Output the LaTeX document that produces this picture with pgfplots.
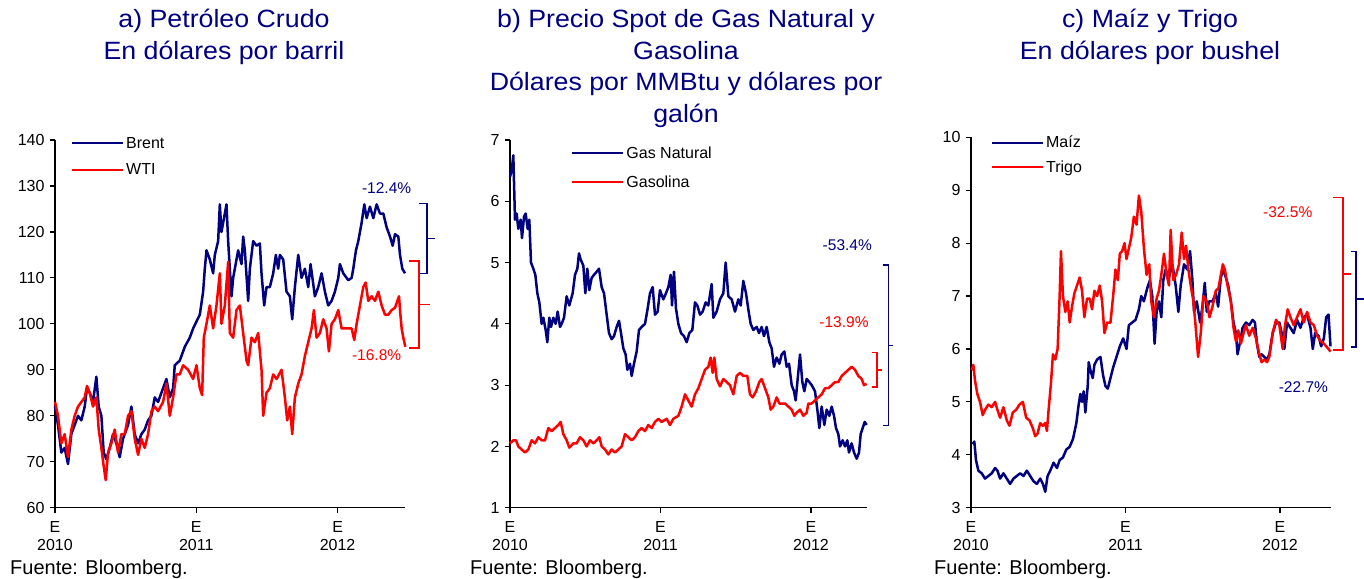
\documentclass[border=0pt]{standalone}
\usepackage{fontspec}
\setmainfont{Liberation Sans}
\newfontfamily\titlefam[FakeStretch=1.07]{Liberation Sans}
\usepackage{pgfplots}
\pgfplotsset{compat=1.18}
\usepackage{pgfplotstable}
\definecolor{navy}{RGB}{0,0,128}
\definecolor{myred}{RGB}{255,0,0}

% x in reference-pixel units (converted to years with x expr)
\pgfplotstableread{
zx v
166 82
175 78
185 72
195 73
205 69.5
215 76
225 78
235 80
245 79
255 82
262 86
270 85
280 83
290 88.5
297 82
305 80
312 72
320 70.5
330 73
340 76
350 74
360 71
370 75
385 78
395 82
405 76
415 74
425 76
435 77
445 79
455 80
465 84
475 83
490 86
500 88
510 84
520 86
525 91
540 92
555 95
570 97
580 99
590 100.5
600 102
610 107
615 112
620 116
630 114
640 111
645 115
655 118
660 126
665 120
675 124
680 126
685 118
690 112
695 106
700 110
705 112
715 116
725 113
730 119
735 116
745 105
750 112
760 118
770 117
780 117.5
785 111
793 104
800 108
810 108
820 111
828 115
835 112
840 115
850 114
860 107
870 106
877 101
885 108
895 115
905 110
915 112
925 108
932 113
945 106
955 108
965 111
975 107
985 104
995 105
1005 107
1015 110
1020 113
1030 111
1045 109.5
1055 110
1060 112
1068 116
1075 118
1085 122
1093 126
1100 123
1110 125.5
1120 123
1130 126
1140 124
1150 124
1160 121
1170 119
1178 117
1185 119.5
1195 119
1200 115
1207 112
1215 111
}\brent
\pgfplotstableread{
zx v
166 83
175 80
185 74
195 76
205 71
215 77
225 80
235 82
245 83
255 84
262 86.5
270 85
280 82
290 84
297 77
305 73
312 69
318 66
325 72
335 74
345 77
355 72
365 76
375 76
385 80
395 81
405 75
415 71.5
425 75
435 73
445 76
455 81
465 82
475 81
490 83
500 87
510 80
520 84
530 89
540 89
550 91
565 90
580 88
590 91
600 86
607 84.5
612 97
620 100
630 104
640 99
650 104
660 111
665 100
675 104
685 113.5
690 98
700 97
710 103
720 104
730 98
740 92
745 91
755 97
765 96
775 98
785 90
790 80
800 85
810 86
820 89
830 88
845 90
855 84
862 79
870 82
877 76
885 84
895 87
905 89
915 93
925 96
935 99
942 103
950 97
960 98
970 101
980 99
987 94
995 100
1005 101
1015 103
1025 99
1040 99
1055 99
1063 96.5
1070 100
1080 104
1090 108
1097 109
1105 105
1115 106
1125 105
1135 107
1145 104
1155 102
1165 102
1175 103
1185 103.5
1197 106
1200 103
1205 99
1210 97
1216 95
}\wti
\pgfplotstableread{
zx v
150 6.4
155 6.5
160 6.75
165 5.7
170 5.8
175 5.55
182 5.7
186 5.4
192 5.75
197 5.8
203 5.55
208 5.7
213 5.0
220 4.9
226 4.8
232 4.5
238 4.35
245 4.0
250 4.1
257 3.9
262 3.7
268 4.1
273 3.95
280 4.1
287 4.0
293 4.2
300 3.95
305 4.0
312 4.1
320 4.45
328 4.3
338 4.5
345 4.8
352 4.9
357 5.15
362 5.05
370 4.95
376 4.5
382 4.9
388 4.55
395 4.75
402 4.8
410 4.85
417 4.9
425 4.6
432 4.5
440 4.15
447 3.85
455 3.75
462 3.8
470 3.95
477 4.05
483 3.85
490 3.6
497 3.5
502 3.25
510 3.35
515 3.15
522 3.35
530 3.55
537 3.9
545 3.95
555 4.0
563 4.25
570 4.5
578 4.6
585 4.15
593 4.2
600 4.55
610 4.4
618 4.5
625 4.6
632 4.8
636 4.3
642 4.85
648 4.25
655 4.0
663 3.85
672 3.8
680 3.7
688 3.85
697 3.9
705 4.35
712 4.3
720 4.15
728 4.2
737 4.35
745 4.3
755 4.65
760 4.1
770 4.2
780 4.4
790 4.5
797 5.0
805 4.45
815 4.4
825 4.2
835 4.4
842 4.3
850 4.7
858 4.5
866 4.2
872 4.0
880 3.9
890 3.95
897 3.85
905 3.95
912 3.8
920 3.95
928 3.7
935 3.6
942 3.3
950 3.45
958 3.35
965 3.5
973 3.55
980 3.3
987 3.35
995 3.0
1002 2.9
1007 2.75
1013 3.1
1020 3.5
1027 3.05
1033 2.9
1040 3.1
1048 3.05
1055 3.0
1065 2.9
1072 2.6
1078 2.3
1085 2.65
1093 2.35
1100 2.6
1108 2.5
1115 2.65
1122 2.5
1128 2.3
1135 2.2
1140 2.0
1148 2.1
1155 2.0
1162 2.1
1167 1.9
1175 2.05
1182 1.9
1190 1.8
1197 1.9
1202 2.2
1208 2.3
1214 2.4
1220 2.35
}\gasnat
\pgfplotstableread{
zx v
150 2.05
160 2.1
168 2.1
175 2.0
185 1.95
195 1.9
205 1.95
215 2.1
225 2.05
235 2.15
245 2.1
255 2.1
265 2.3
275 2.25
285 2.3
295 2.35
302 2.4
310 2.2
320 2.1
328 1.98
340 2.05
350 2.05
360 2.15
370 2.1
380 2.0
390 2.1
400 2.05
410 2.1
418 2.15
425 2.0
435 1.95
445 1.87
455 1.95
465 1.9
475 1.95
485 2.0
495 2.2
505 2.15
515 2.1
525 2.15
535 2.25
545 2.3
555 2.25
565 2.35
575 2.3
585 2.4
595 2.45
605 2.4
620 2.45
630 2.35
640 2.45
655 2.5
665 2.65
675 2.85
685 2.75
695 2.65
705 2.85
715 2.95
725 3.1
735 3.25
745 3.3
752 3.45
758 3.2
763 3.45
770 3.1
780 2.98
790 3.1
800 3.05
810 3.0
820 2.85
830 3.15
840 3.2
850 3.15
862 3.15
870 2.85
878 2.8
888 2.9
898 3.05
905 3.1
915 2.95
925 2.8
932 2.6
940 2.65
950 2.8
958 2.7
965 2.7
975 2.7
985 2.65
995 2.6
1003 2.5
1010 2.55
1020 2.6
1030 2.5
1040 2.55
1045 2.7
1055 2.7
1065 2.75
1075 2.8
1085 2.85
1095 2.95
1105 2.95
1115 3.0
1125 3.05
1135 3.05
1145 3.15
1155 3.2
1165 3.25
1175 3.3
1185 3.25
1195 3.15
1205 3.1
1212 3.0
1220 3.02
}\gasolina
\pgfplotstableread{
zx v
158 4.2
163 4.25
168 3.9
175 3.7
185 3.65
195 3.55
205 3.6
215 3.65
225 3.75
232 3.7
240 3.55
250 3.65
260 3.55
270 3.45
280 3.55
290 3.6
300 3.65
310 3.6
320 3.7
330 3.6
340 3.5
350 3.45
360 3.55
368 3.45
375 3.3
382 3.6
390 3.7
400 3.85
410 3.75
418 3.9
428 3.95
438 4.1
448 4.15
458 4.3
468 4.6
475 4.95
480 5.15
485 5.0
490 5.2
495 4.8
502 5.3
505 5.75
510 5.6
517 5.45
522 5.7
530 5.8
540 5.85
548 5.5
555 5.3
562 5.25
570 5.45
578 5.65
588 5.85
598 6.05
608 6.2
618 6.0
625 6.45
635 6.5
645 6.55
655 6.75
662 7.0
670 6.9
680 7.15
688 7.3
695 7.0
702 6.1
708 6.7
715 6.9
722 6.6
728 7.3
735 7.5
745 7.35
755 7.6
765 7.2
773 6.7
780 7.2
790 7.6
800 7.5
808 7.85
815 7.3
820 6.7
828 6.9
838 6.5
845 6.8
852 7.25
858 6.7
865 6.9
875 6.9
885 7.05
892 6.8
900 7.35
908 7.5
915 7.35
922 7.2
930 6.9
938 6.5
945 6.3
950 5.9
958 6.15
965 6.4
975 6.5
985 6.45
995 6.55
1002 6.5
1008 6.1
1015 5.85
1022 5.9
1030 5.85
1038 5.8
1045 5.9
1055 6.3
1065 6.5
1075 6.5
1082 6.3
1090 6.0
1098 6.5
1108 6.4
1118 6.3
1128 6.55
1138 6.4
1148 6.6
1158 6.65
1168 6.4
1175 6.0
1182 6.3
1192 6.25
1200 6.05
1208 6.2
1215 6.6
1222 6.65
1228 6.05
}\maiz
\pgfplotstableread{
zx v
155 5.6
160 5.7
165 5.4
172 5.15
180 5.0
188 4.75
195 4.85
205 4.95
215 4.9
225 5.0
232 4.85
240 4.7
250 4.9
260 4.65
268 4.55
278 4.8
288 4.85
298 4.95
308 5.0
318 4.7
328 4.65
338 4.5
345 4.35
352 4.4
360 4.6
368 4.55
375 4.6
380 4.45
385 4.85
392 5.35
398 5.9
405 5.8
412 6.0
418 7.0
422 7.85
428 7.0
435 6.7
442 6.9
448 6.5
455 6.8
462 7.05
470 7.2
478 7.35
485 7.1
492 6.6
500 6.95
508 6.95
515 6.75
522 7.1
530 7.0
538 7.2
545 6.9
552 6.3
560 6.5
570 6.5
578 7.0
585 7.5
592 7.3
598 7.8
605 7.85
612 8.0
618 7.7
625 7.9
632 8.1
640 8.5
648 8.35
655 8.9
662 8.6
670 7.9
678 7.4
686 7.6
692 6.9
700 6.6
708 6.95
715 7.1
722 7.4
730 7.8
738 7.4
745 7.2
750 8.25
758 7.3
766 7.4
775 7.6
783 8.2
790 7.7
796 7.95
803 7.5
810 7.2
818 6.9
825 6.4
832 5.85
840 6.3
848 7.0
858 6.9
866 6.6
875 6.8
885 7.1
893 7.15
900 7.4
906 7.6
912 7.5
920 7.2
930 6.9
938 6.4
945 6.15
952 6.35
960 6.1
968 6.3
975 6.45
985 6.25
995 6.4
1005 6.2
1015 5.9
1022 5.75
1030 5.8
1038 5.75
1045 5.85
1055 6.3
1065 6.55
1075 6.45
1085 6.0
1092 6.45
1100 6.75
1108 6.6
1118 6.45
1128 6.6
1138 6.75
1148 6.5
1158 6.7
1168 6.5
1178 6.45
1188 6.25
1198 6.15
1208 6.1
1215 6.05
1222 6.0
1228 5.95
}\trigo

\newcommand{\tickfont}{\fontsize{16}{18}\selectfont}
\newcommand{\titlefont}{\titlefam\fontsize{25}{31.5}\selectfont}
\newcommand{\pctfont}{\fontsize{15.5}{18}\selectfont}

\tikzset{br/.style={line width=1.6pt}}
\pgfplotsset{
  panel/.style={
    scale only axis, axis lines=left,
    axis line style={-, line width=1.4pt, black},
    tick align=outside, major tick length=5pt,
    tick style={black, line width=1.2pt},
    xtick={2010,2011,2012},
    xticklabels={{E\\2010},{E\\2011},{E\\2012}},
    xticklabel style={align=center, font=\tickfont, yshift=-5pt},
    yticklabel style={font=\tickfont, xshift=-2pt},
    /pgf/number format/assume math mode=true,
    clip=false, anchor=origin,
    legend style={draw=none, fill=none, font=\tickfont,
      anchor=north west, legend cell align=left},
    legend image code/.code={\draw[##1, line width=2pt] (0pt,0pt) -- (51pt,0pt);},
  },
  bl/.style={navy, line width=2.5pt, line join=round},
  rd/.style={myred, line width=2.5pt, line join=round},
}

\begin{document}
\begin{tikzpicture}
\useasboundingbox (0,0) rectangle (1364pt,-578pt);

% titles
\node[navy, font=\titlefont, align=center, anchor=north] at (224pt,-6pt) {a) Petróleo Crudo\\En dólares por barril};
\node[navy, font=\titlefont, align=center, anchor=north] at (686pt,-6pt) {b) Precio Spot de Gas Natural y\\Gasolina\\Dólares por MMBtu y dólares por\\galón};
\node[navy, font=\titlefont, align=center, anchor=north] at (1150pt,-6pt) {c) Maíz y Trigo\\En dólares por bushel};

% sources
\node[font=\fontsize{20}{22}\selectfont, anchor=base west, inner sep=0pt] at (10pt,-574pt) {Fuente: Bloomberg.};
\node[font=\fontsize{20}{22}\selectfont, anchor=base west, inner sep=0pt] at (470pt,-574pt) {Fuente: Bloomberg.};
\node[font=\fontsize{20}{22}\selectfont, anchor=base west, inner sep=0pt] at (934pt,-574pt) {Fuente: Bloomberg.};

% ---------------- panel a
\begin{axis}[panel, at={(55pt,-507.7pt)}, width=350pt, height=367.7pt,
  xmin=2010, xmax=2012.477, ymin=60, ymax=140, ytick={60,70,...,140},
  legend style={at={(0.037,1.019)}, row sep=10pt}]
\addplot[bl] table[x expr=2010+(\thisrowno{0}-166)/423.5, y index=1] {\brent};
\addlegendentry{Brent}
\addplot[rd] table[x expr=2010+(\thisrowno{0}-166)/423.5, y index=1] {\wti};
\addlegendentry{WTI}
\draw[navy, br] (axis cs:2012.576,126.2) -- (axis cs:2012.633,126.2) -- (axis cs:2012.633,111.0) -- (axis cs:2012.576,111.0);
\draw[navy, br] (axis cs:2012.633,118.6) -- (axis cs:2012.688,118.6);
\draw[myred, br] (axis cs:2012.505,113.7) -- (axis cs:2012.576,113.7) -- (axis cs:2012.576,94.7) -- (axis cs:2012.505,94.7);
\draw[myred, br] (axis cs:2012.576,104.2) -- (axis cs:2012.652,104.2);
\node[navy, font=\pctfont] at (axis cs:2012.347,129.5) {-12.4\%};
\node[myred, font=\pctfont] at (axis cs:2012.276,93.2) {-16.8\%};
\end{axis}

% ---------------- panel b
\begin{axis}[panel, at={(510pt,-507.7pt)}, width=357.3pt, height=367.7pt,
  xmin=2010, xmax=2012.374, ymin=1, ymax=7, ytick={1,2,...,7},
  legend style={at={(0.163,0.993)}, row sep=12pt}]
\addplot[bl] table[x expr=2010+(\thisrowno{0}-150)/451.5, y index=1] {\gasnat};
\addlegendentry{Gas Natural}
\addplot[rd] table[x expr=2010+(\thisrowno{0}-150)/451.5, y index=1] {\gasolina};
\addlegendentry{Gasolina}
\draw[navy, br] (axis cs:2012.480,4.96) -- (axis cs:2012.514,4.96) -- (axis cs:2012.514,2.34) -- (axis cs:2012.480,2.34);
\draw[navy, br] (axis cs:2012.514,3.65) -- (axis cs:2012.547,3.65);
\draw[myred, br] (axis cs:2012.403,3.53) -- (axis cs:2012.437,3.53) -- (axis cs:2012.437,2.97) -- (axis cs:2012.403,2.97);
\draw[myred, br] (axis cs:2012.437,3.25) -- (axis cs:2012.470,3.25);
\node[navy, font=\pctfont] at (axis cs:2012.241,5.29) {-53.4\%};
\node[myred, font=\pctfont] at (axis cs:2012.219,4.03) {-13.9\%};
\end{axis}

% ---------------- panel c
\begin{axis}[panel, at={(971pt,-507.7pt)}, width=359.7pt, height=370.4pt,
  xmin=2010, xmax=2012.328, ymin=3, ymax=10, ytick={3,4,...,10},
  legend style={at={(0.047,1.015)}, row sep=7.5pt}]
\addplot[bl] table[x expr=2010+(\thisrowno{0}-153)/462, y index=1] {\maiz};
\addlegendentry{Maíz}
\addplot[rd] table[x expr=2010+(\thisrowno{0}-153)/462, y index=1] {\trigo};
\addlegendentry{Trigo}
\draw[myred, br] (axis cs:2012.345,8.86) -- (axis cs:2012.406,8.86) -- (axis cs:2012.406,5.98) -- (axis cs:2012.345,5.98);
\draw[myred, br] (axis cs:2012.406,7.42) -- (axis cs:2012.460,7.42);
\draw[navy, br] (axis cs:2012.458,7.84) -- (axis cs:2012.490,7.84) -- (axis cs:2012.490,6.04) -- (axis cs:2012.458,6.04);
\draw[navy, br] (axis cs:2012.490,6.94) -- (axis cs:2012.544,6.94);
\node[myred, font=\pctfont] at (axis cs:2012.050,8.59) {-32.5\%};
\node[navy, font=\pctfont] at (axis cs:2012.151,5.27) {-22.7\%};
\end{axis}
\end{tikzpicture}
\end{document}
